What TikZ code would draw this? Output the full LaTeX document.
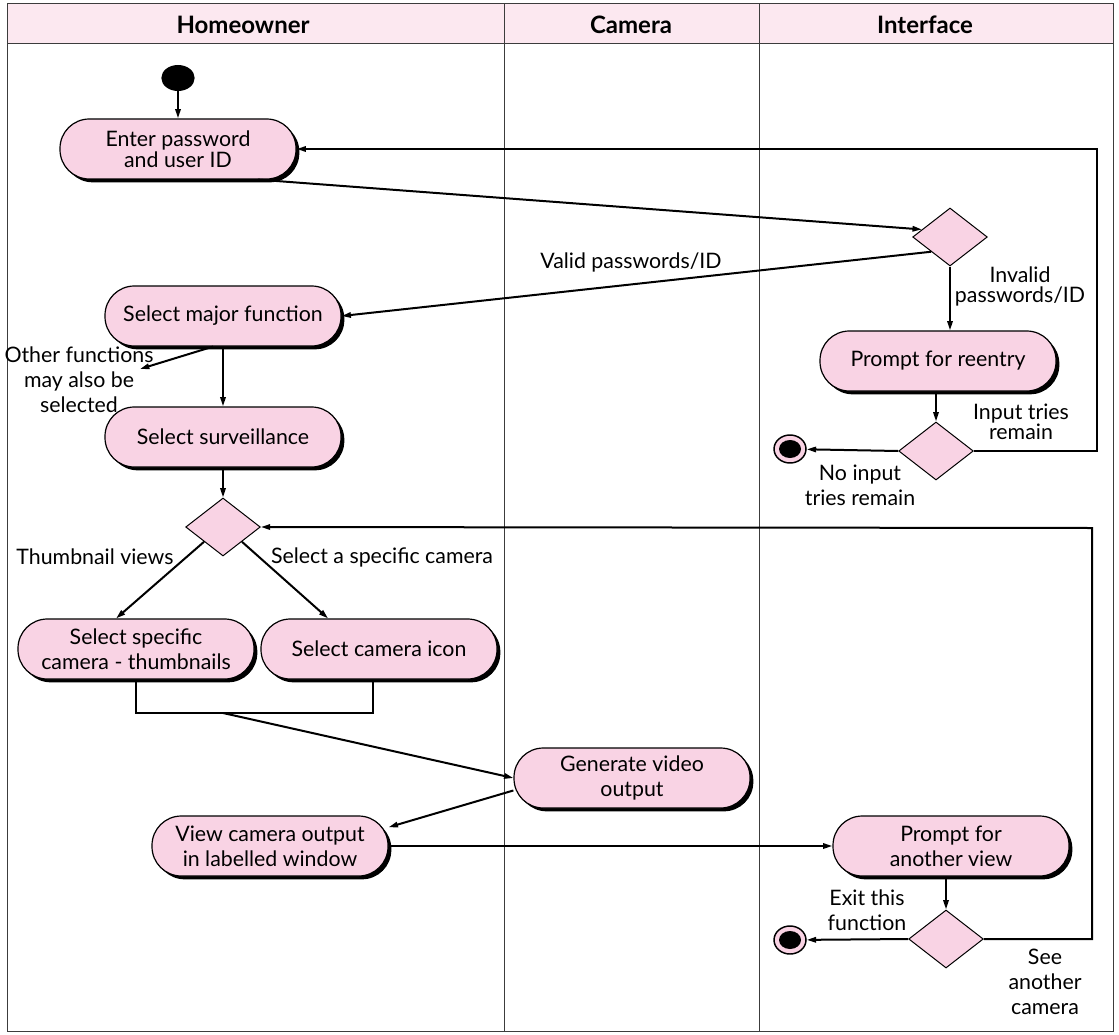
\documentclass[tikz,border=0pt]{standalone}
\usepackage{fontspec}
\setmainfont{Lato}
\usetikzlibrary{shapes.geometric,arrows.meta,shadows}
\definecolor{actpink}{RGB}{249,211,228}
\definecolor{headpink}{RGB}{252,232,240}
\definecolor{lanegray}{RGB}{60,60,60}

\begin{document}
\begin{tikzpicture}[x=0.75pt, y=-0.75pt,
  font=\fontsize{16}{18.75}\selectfont,
  activity/.style = {shape=rectangle, rounded corners=22pt,
    draw, line width=0.9pt, fill=actpink, align=center,
    minimum width=177pt, minimum height=45pt, inner sep=2pt,
    drop shadow={shadow xshift=2.5pt, shadow yshift=-2.5pt,
      fill=black, opacity=1}},
  decision/.style = {shape=diamond, draw, line width=0.75pt,
    fill=actpink, minimum width=56pt, minimum height=43.5pt, inner sep=0pt},
  initial/.style = {shape=ellipse, fill=black,
    minimum width=25pt, minimum height=19.5pt, inner sep=0pt},
  final/.style = {shape=ellipse, draw, line width=1.1pt, fill=actpink,
    minimum width=24pt, minimum height=21pt, inner sep=0pt,
    path picture={\fill[black] (path picture bounding box.center) ellipse (8.25pt and 6.75pt);}},
  note/.style = {align=center, inner sep=1pt},
  tight/.style = {font=\fontsize{16}{15}\selectfont},
  flow/.style = {line width=1.5pt, -{Triangle[length=7pt, width=4pt]}},
  lane/.style = {line width=0.75pt, draw=lanegray},
  head/.style = {font=\fontsize{18}{20}\selectfont\bfseries}]
  \useasboundingbox (0,0) rectangle (1119,1034);

  % swimlanes
  \fill[headpink] (7,4) rectangle (1113,44);
  \draw[lane] (7,4) rectangle (1113,1031);
  \draw[lane] (7,44) -- (1113,44);
  \draw[lane] (504,4) -- (504,1031);
  \draw[lane] (759,4) -- (759,1031);
  \node[head] (hhome) at (243,25) {Homeowner};
  \node[head] (hcam) at (631,25) {Camera};
  \node[head] (hui) at (925,25) {Interface};

  % activities
  \node[initial] (start) at (178,78) {};
  \node[activity] (enter) at (178,149) {Enter password\\[-3pt]and user ID};
  \node[decision] (pwcheck) at (950,237) {};
  \node[activity] (major) at (223,316) {Select major function};
  \node[activity] (reentry) at (938,361) {Prompt for reentry};
  \node[decision] (tries) at (936,451) {};
  \node[final] (endtries) at (790,449) {};
  \node[activity] (surv) at (223,437) {Select surveillance};
  \node[decision] (viewsel) at (223,527) {};
  \node[activity] (thumbs) at (136,649) {Select specific\\camera - thumbnails};
  \node[activity] (icon) at (379,649) {Select camera icon};
  \node[activity] (gen) at (632,778) {Generate video\\output};
  \node[activity] (view) at (270,846) {View camera output\\in labelled window};
  \node[activity] (another) at (951,846) {Prompt for\\another view};
  \node[decision] (exitsel) at (946,939) {};
  \node[final] (endexit) at (790,940) {};

  % guard texts
  \node[note] (lvalid) at (631,262) {Valid passwords/ID};
  \node[note, tight] (linvalid) at (1020,286) {Invalid\\passwords/ID};
  \node[note, tight] (lremain) at (1021,422) {Input tries\\remain};
  \node[note] (lnone) at (860,485) {No input\\tries remain};
  \node[note] (lother) at (79,380) {Other functions\\may also be\\selected};
  \node[note] (lthumb) at (95,557) {Thumbnail views};
  \node[note] (lcam) at (382,557) {Select a specific camera};
  \node[note] (lexit) at (867,910) {Exit this\\function};
  \node[note] (lsee) at (1045,982) {See\\another\\camera};

  % flows
  \coordinate (retry) at (1097,149);
  \coordinate (othertip) at (140,369);
  \coordinate (join) at (223,713);
  \coordinate (joinR) at (373,713);
  \coordinate (nextcam) at (1092,528);
  \draw[flow] (start) -- (enter);
  \draw[flow] (enter.-21) -- (pwcheck.165);
  \draw[flow] (pwcheck.south west) -- (major.east);
  \draw[flow] (pwcheck.south) -- (pwcheck.south |- reentry.north);
  \draw[flow] (tries.north |- reentry.south) -- (tries.north);
  \draw[flow] (tries.west) -- (endtries);
  \draw[flow] (tries.east) -| (retry) -- (enter.east);
  \draw[flow] (major.-108) -- (othertip);
  \draw[flow] (major) -- (surv);
  \draw[flow] (surv) -- (viewsel);
  \draw[flow] (viewsel.south west) -- (thumbs.123);
  \draw[flow] (viewsel.south east) -- (icon.149);
  \draw[line width=1.5pt] (thumbs.south) |- (joinR) -- (joinR |- icon.south);
  \draw[flow] (join) -- (gen.west);
  \draw[flow] (gen.186) -- (view.9);
  \draw[flow] (view.east) -- (another.west);
  \draw[flow] (exitsel.north |- another.south) -- (exitsel.north);
  \draw[flow] (exitsel.west) -- (endexit);
  \draw[flow] (exitsel.east) -| (nextcam) -- (viewsel.east);
\end{tikzpicture}
\end{document}
